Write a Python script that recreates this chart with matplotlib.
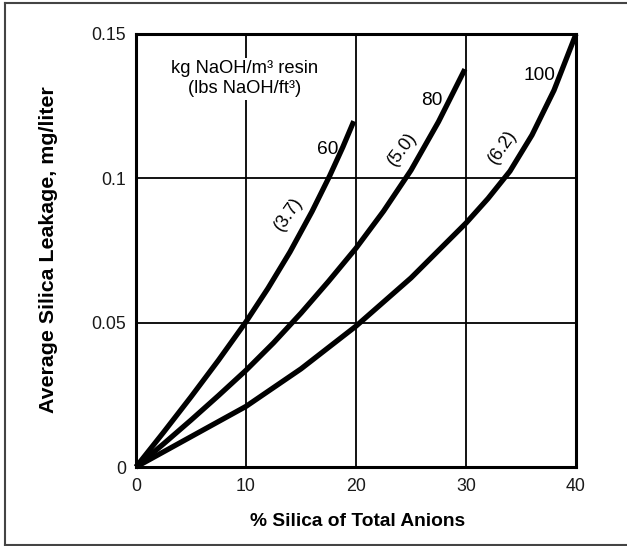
import matplotlib
matplotlib.use("Agg")
import matplotlib.pyplot as plt
from matplotlib.lines import Line2D

plt.rcParams['font.family'] = ['Liberation Sans', 'DejaVu Sans']

# Data
x60 = [0, 2.5, 5, 7.5, 10, 12, 14, 16, 17.6, 18.8, 19.8]
y60 = [0, 0.0120, 0.0243, 0.0370, 0.0503, 0.0619, 0.0745, 0.0885, 0.1008, 0.1108, 0.1198]

x80 = [0, 2.5, 5, 7.5, 10, 12.5, 15, 17.5, 20, 22.5, 25, 27.5, 29.9]
y80 = [0, 0.0080, 0.01625, 0.02475, 0.0335, 0.0430, 0.0533, 0.0643, 0.0758,
       0.0886, 0.1028, 0.1196, 0.1378]

x100 = [0, 5, 10, 15, 20, 25, 30, 32, 34, 36, 38, 40]
y100 = [0, 0.0105, 0.0210, 0.0340, 0.0488, 0.0655, 0.0845, 0.0930, 0.1025,
        0.1150, 0.1305, 0.1500]

xticks = [0, 10, 20, 30, 40]
xticklabels = ["0", "10", "20", "30", "40"]
yticks = [0, 0.05, 0.1, 0.15]
yticklabels = ["0", "0.05", "0.1", "0.15"]

W, H = 627, 546
fig = plt.figure(figsize=(W / 100, H / 100), dpi=100)
ax = fig.add_axes([136 / W, 1 - 467 / H, (576 - 136) / W, (467 - 34) / H])

ax.set_xlim(0, 40)
ax.set_ylim(0, 0.15)
ax.set_xticks(xticks)
ax.set_xticklabels(xticklabels)
ax.set_yticks(yticks)
ax.set_yticklabels(yticklabels)
ax.tick_params(length=0, labelsize=12.8, colors='#1a1a1a')
ax.tick_params(axis='y', pad=7)
ax.tick_params(axis='x', pad=8)
for s in ax.spines.values():
    s.set_linewidth(2.2)
    s.set_color('black')
ax.grid(True, color='black', linewidth=1.3)
ax.set_axisbelow(True)

lw = 3.8
for xs, ys in [(x60, y60), (x80, y80), (x100, y100)]:
    ax.plot(xs, ys, color='black', linewidth=lw, solid_capstyle='butt',
            solid_joinstyle='round', zorder=3, clip_on=False)

xl = ax.set_xlabel("% Silica of Total Anions", fontsize=13.8, fontweight='bold')
xl.set_va('center')
ax.xaxis.set_label_coords((358 - 136) / 440, (467 - 522) / 433)
yl = ax.set_ylabel("Average Silica Leakage, mg/liter", fontsize=15.4, fontweight='bold')
yl.set_va('center')
ax.yaxis.set_label_coords((48 - 136) / 440, (467 - 250) / 433)

# annotations
ax.text(9.9, 0.1345, "kg NaOH/m³ resin\n(lbs NaOH/ft³)", ha='center', va='center',
        fontsize=13.2, linespacing=1.2, zorder=4,
        bbox=dict(facecolor='white', edgecolor='none', pad=2))
ax.text(17.4, 0.110, "60", ha='center', va='center', fontsize=13.8, zorder=4)
ax.text(26.9, 0.127, "80", ha='center', va='center', fontsize=13.8, zorder=4)
ax.text(36.7, 0.1355, "100", ha='center', va='center', fontsize=13.8, zorder=4)
ax.text(13.9, 0.0875, "(3.7)", ha='center', va='center', fontsize=13, rotation=55, zorder=4)
ax.text(24.2, 0.110, "(5.0)", ha='center', va='center', fontsize=13, rotation=53, zorder=4)
ax.text(33.3, 0.111, "(6.2)", ha='center', va='center', fontsize=13, rotation=55, zorder=4)

# figure border (left, top, bottom)
bc = '#444444'
fig.add_artist(Line2D([4.5 / W, 4.5 / W], [1 - 2.5 / H, 1 - 545 / H], color=bc, linewidth=1.5))
fig.add_artist(Line2D([4.5 / W, 1], [1 - 2.5 / H, 1 - 2.5 / H], color=bc, linewidth=1.5))
fig.add_artist(Line2D([4.5 / W, 1], [1 - 545 / H, 1 - 545 / H], color=bc, linewidth=1.5))

fig.savefig("out.png", dpi=100)
